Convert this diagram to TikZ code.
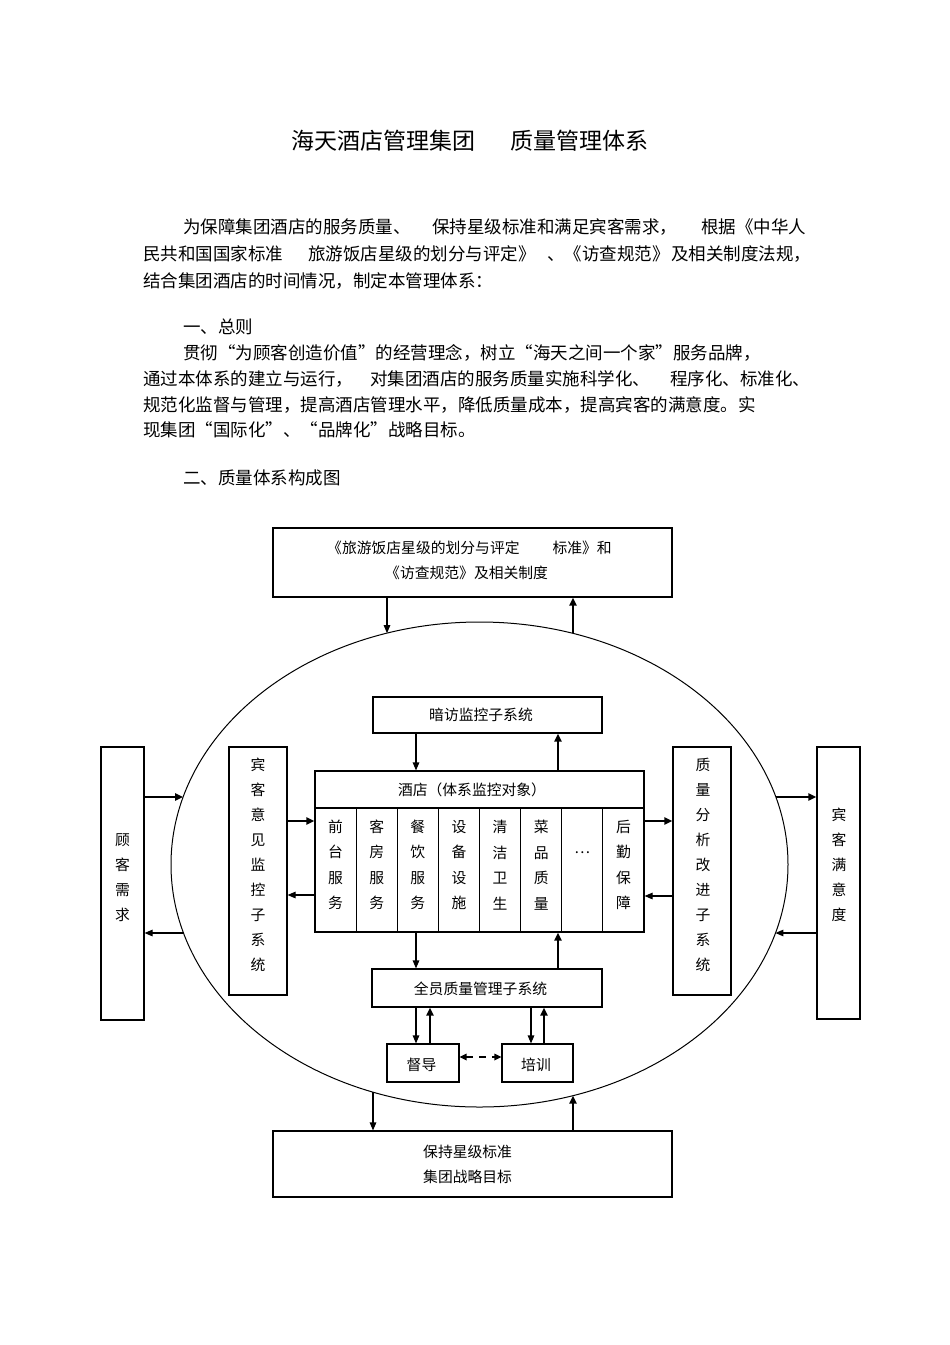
\documentclass[tikz,border=0pt]{standalone}
\usepackage{fontspec}
\setmainfont{Noto Sans CJK SC}
\usetikzlibrary{arrows.meta,shapes.geometric}
\newcommand{\cjklq}{\makebox[1em][r]{“}}
\newcommand{\cjkrq}{\makebox[1em][l]{”}}
\begin{document}
\begin{tikzpicture}[x=1pt,y=-1pt]
\tikzset{
 body/.style={font=\fontsize{17.5}{21}\selectfont, anchor=west, inner sep=0pt},
 ttl/.style={font=\fontsize{23}{26}\selectfont, anchor=west, inner sep=0pt},
 lbl/.style={font=\fontsize{14.8}{18}\selectfont, inner sep=0pt},
 vlbl/.style={font=\fontsize{14.8}{25}\selectfont, align=center, inner sep=0pt},
 vlblc/.style={font=\fontsize{14.8}{25.5}\selectfont, align=center, inner sep=0pt},
 box/.style={draw, line width=1.1pt, inner sep=0pt},
 colbox/.style={draw, line width=0.8pt, inner sep=0pt},
 thinar/.style={line width=1.1pt, -{Triangle[length=8pt,width=6.5pt]}},
 thickar/.style={line width=2pt, -{Triangle[length=8pt,width=7pt]}},
 dashar/.style={line width=1.6pt, dash pattern=on 7pt off 6pt, {Triangle[length=7pt,width=6.5pt]}-{Triangle[length=7pt,width=6.5pt]}},
}
\fill[white] (0,0) rectangle (950,1345);
\useasboundingbox (0,0) rectangle (950,1345);

% title and text
\node[ttl] (t1) at (291,141) {海天酒店管理集团};
\node[ttl] (t2) at (510,141) {质量管理体系};

\node[body] (p1a) at (183,227) {为保障集团酒店的服务质量、};
\node[body] (p1b) at (432,227) {保持星级标准和满足宾客需求，};
\node[body] (p1c) at (701,227) {根据《中华人};
\node[body] (p2a) at (143,254) {民共和国国家标准};
\node[body] (p2b) at (308,254) {旅游饭店星级的划分与评定》};
\node[body] (p2c) at (547,254) {、《访查规范》};
\node[body] (p2d) at (671,254) {及相关制度法规，};
\node[body] (p3) at (143,281) {结合集团酒店的时间情况，制定本管理体系：};
\node[body] (h1) at (183,327) {一、总则};
\node[body] (q1) at (183,353) {贯彻\cjklq 为顾客创造价值\cjkrq 的经营理念，树立\cjklq 海天之间一个家\cjkrq 服务品牌，};
\node[body] (q2a) at (143,379) {通过本体系的建立与运行，};
\node[body] (q2b) at (370,379) {对集团酒店的服务质量实施科学化、};
\node[body] (q2c) at (670,379) {程序化、标准化、};
\node[body] (q3) at (143,405) {规范化监督与管理，提高酒店管理水平，降低质量成本，提高宾客的满意度。实};
\node[body] (q4) at (143,430) {现集团\cjklq 国际化\cjkrq 、\cjklq 品牌化\cjkrq 战略目标。};
\node[body] (h2) at (183,478) {二、质量体系构成图};

% ellipse
\node[draw, ellipse, line width=1pt, minimum width=617pt, minimum height=485pt, inner sep=0pt] (ell) at (479.5,864.5) {};
\coordinate (eT1) at (387,633.2);
\coordinate (eT2) at (573,633.4);
\coordinate (eB1) at (373,1092);
\coordinate (eB2) at (573,1095.6);
\coordinate (eL1) at (183.2,797);
\coordinate (eL2) at (183.6,933);
\coordinate (eR1) at (775.8,797);
\coordinate (eR2) at (775.4,933);

% top box
\node[box, minimum width=399pt, minimum height=69pt] (top) at (472.5,562.5) {};
\node[lbl, anchor=west] (top1) at (327,548) {《旅游饭店星级的划分与评定\hspace{33pt}标准》和};
\node[lbl, anchor=west] (top2) at (385,573) {《访查规范》及相关制度};

% bottom box
\node[box, minimum width=399pt, minimum height=66pt] (bot) at (472.5,1164) {};
\node[lbl, anchor=west] (bot1) at (423,1152) {保持星级标准};
\node[lbl, anchor=west] (bot2) at (423,1177) {集团战略目标};

% inner boxes
\node[box, minimum width=229pt, minimum height=36pt] (ank) at (487.5,715) {};
\node[lbl] (ankt) at (481,715) {暗访监控子系统};

\node[box, minimum width=329pt, minimum height=161pt] (hotel) at (479.5,851.5) {};
\node[box, minimum width=329pt, minimum height=37pt] (hdr) at (479.5,789.5) {};
\node[lbl] (hdrt) at (472,790) {酒店（体系监控对象）};
\foreach \i in {1,...,8} {
  \node[colbox, minimum width=41.125pt, minimum height=124pt] (c\i) at ({315+41.125*(\i-0.5)},870) {};
}
\node[vlblc] (ct1) at (335.6,865) {前\\台\\服\\务};
\node[vlblc] (ct2) at (376.7,865) {客\\房\\服\\务};
\node[vlblc] (ct3) at (417.8,865) {餐\\饮\\服\\务};
\node[vlblc] (ct4) at (458.9,865) {设\\备\\设\\施};
\node[vlblc] (ct5) at (500.1,865) {清\\洁\\卫\\生};
\node[vlblc] (ct6) at (541.2,865) {菜\\品\\质\\量};
\node[lbl] (ct7) at (582.3,853) {…};
\node[vlblc] (ct8) at (623.4,865) {后\\勤\\保\\障};
\draw[box] (hotel.north west) rectangle (hotel.south east);

\node[box, minimum width=230pt, minimum height=38pt] (qy) at (487,988) {};
\node[lbl] (qyt) at (480.5,989) {全员质量管理子系统};
\node[box, minimum width=72pt, minimum height=38pt] (dd) at (423,1063) {};
\node[lbl] (ddt) at (421.5,1065) {督导};
\node[box, minimum width=71pt, minimum height=38pt] (px) at (537.5,1063) {};
\node[lbl] (pxt) at (536,1065) {培训};

% side boxes
\node[box, minimum width=43pt, minimum height=273pt] (gk) at (122.5,883.5) {};
\node[vlbl] (gkt) at (122.5,877.5) {顾\\客\\需\\求};
\node[box, minimum width=58pt, minimum height=248pt] (by) at (258,871) {};
\node[vlbl] (byt) at (258,865) {宾\\客\\意\\见\\监\\控\\子\\系\\统};
\node[box, minimum width=58pt, minimum height=248pt] (zl) at (702,871) {};
\node[vlbl] (zlt) at (703,865) {质\\量\\分\\析\\改\\进\\子\\系\\统};
\node[box, minimum width=43pt, minimum height=272pt] (my) at (838.5,883) {};
\node[vlbl] (myt) at (839,865) {宾\\客\\满\\意\\度};

% arrows
\draw[thinar] ([xshift=-85.5pt]top.south) -- (eT1);
\draw[thickar] (eT2) -- ([xshift=100.5pt]top.south);
\draw[thinar] ([xshift=-71.5pt]ank.south) -- ([xshift=-63.5pt]hotel.north);
\draw[thickar] ([xshift=78.5pt]hotel.north) -- ([xshift=70.5pt]ank.south);
\draw[thinar] ([xshift=-63.5pt]hotel.south) -- ([xshift=-71pt]qy.north);
\draw[thickar] ([xshift=71pt]qy.north) -- ([xshift=78.5pt]hotel.south);
\draw[thinar] ([xshift=-71pt]qy.south) -- ([xshift=-7pt]dd.north);
\draw[thickar] ([xshift=7pt]dd.north) -- ([xshift=-57pt]qy.south);
\draw[thinar] ([xshift=44pt]qy.south) -- ([xshift=-6.5pt]px.north);
\draw[thickar] ([xshift=6.5pt]px.north) -- ([xshift=57pt]qy.south);
\draw[dashar] ([yshift=6pt]dd.east) -- ([yshift=6pt]px.west);
\draw[thinar] (eB1) -- ([xshift=-99.5pt]bot.north);
\draw[thickar] ([xshift=100.5pt]bot.north) -- (eB2);
\draw[thickar] ([yshift=86.5pt]gk.east) -- (eL1);
\draw[thinar] (eL2) -- ([yshift=-49.5pt]gk.east);
\draw[thickar] ([yshift=50pt]by.east) -- ([yshift=30.5pt]hotel.west);
\draw[thinar] ([yshift=-43.5pt]hotel.west) -- ([yshift=-24pt]by.east);
\draw[thickar] ([yshift=30.5pt]hotel.east) -- ([yshift=50pt]zl.west);
\draw[thinar] ([yshift=-25pt]zl.west) -- ([yshift=-44.5pt]hotel.east);
\draw[thickar] (eR1) -- ([yshift=86pt]my.west);
\draw[thinar] ([yshift=-50pt]my.west) -- (eR2);
\end{tikzpicture}
\end{document}
